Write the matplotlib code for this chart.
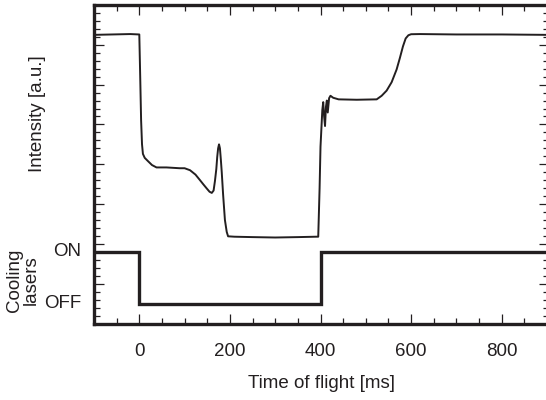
"""Intensity trace vs time of flight with the cooling-laser on/off timing underneath."""
import matplotlib
matplotlib.use('Agg')
import matplotlib.pyplot as plt
from matplotlib.ticker import MultipleLocator, NullFormatter
import matplotlib.transforms as mtransforms

plt.rcParams['font.family'] = ['Liberation Sans', 'DejaVu Sans']

# intensity trace (a.u., same scale as the tick grid)
time_ms = [-100, -60, -20, 0, 2, 4, 6, 8, 12, 19, 28, 38, 60, 89, 100, 112,
           124, 134, 141, 149, 155, 160, 164, 167, 170, 172, 174, 176, 178,
           180, 182, 185, 189, 193, 196, 210, 250, 300, 350, 390, 395, 398,
           400, 402, 404, 406, 408, 410, 412, 414, 416, 419, 422, 428, 440,
           480, 524, 535, 546, 557, 568, 575, 582, 588, 594, 600, 620, 700,
           800, 900]
intensity = [36.25, 36.3, 36.35, 36.3, 31.0, 25.5, 22.5, 21.3, 20.8, 20.4,
             19.9, 19.6, 19.6, 19.5, 19.5, 19.25, 18.7, 18.0, 17.5, 16.95,
             16.55, 16.4, 16.7, 17.9, 19.4, 20.9, 22.0, 22.5, 22.0, 20.6,
             19.0, 16.2, 13.0, 11.5, 10.95, 10.9, 10.85, 10.8, 10.85, 10.9,
             10.9, 17.0, 22.2, 24.5, 26.8, 27.8, 26.0, 24.8, 27.2, 28.0, 26.5,
             28.3, 28.6, 28.35, 28.15, 28.1, 28.15, 28.6, 29.25, 30.3, 31.9,
             33.3, 34.8, 35.8, 36.2, 36.33, 36.35, 36.3, 36.3, 36.25]

# cooling lasers: switching times and state levels
laser_edges = [-100, 0, 400, 900]
laser_level_on = 9.0
laser_level_off = 2.5
laser_states = ['ON', 'OFF', 'ON']
laser_labels = ['ON', 'OFF']

x_major = 200
x_minor = 50

fig = plt.figure(figsize=(5.46, 4.00), dpi=100)
# right edge sits just past the image border, as in the original crop
ax = fig.add_axes([94 / 546, 76.5 / 400, 455 / 546, 318.5 / 400])

ink = '#231f20'
ax.plot(time_ms, intensity, color=ink, lw=1.4, solid_joinstyle='round')

levels = [laser_level_on if s == 'ON' else laser_level_off for s in laser_states]
ax.stairs(levels, laser_edges, baseline=None, color=ink, lw=2.4)

ax.set_xlim(-100, 900 + 2 * 1000 / 453)
ax.set_ylim(0, 40)

ax.xaxis.set_major_locator(MultipleLocator(x_major))
ax.xaxis.set_minor_locator(MultipleLocator(x_minor))
ax.yaxis.set_major_locator(MultipleLocator(5))
ax.yaxis.set_minor_locator(MultipleLocator(1))
ax.yaxis.set_major_formatter(NullFormatter())

ax.tick_params(which='both', direction='in', top=True, right=True,
               color=ink, width=0.9)
ax.tick_params(which='major', length=7.5)
ax.tick_params(which='minor', length=4.5)
ax.tick_params(axis='x', which='major', labelsize=13.5, pad=14, labelcolor=ink)
for sp in ax.spines.values():
    sp.set_linewidth(2.4)
    sp.set_color(ink)

# ON / OFF labels next to the laser trace
trans = mtransforms.blended_transform_factory(fig.transFigure, ax.transData)
for lab in laser_labels:
    yv = laser_level_on if lab == 'ON' else laser_level_off
    ax.text(81 / 546, yv, lab, transform=trans, ha='right', va='center',
            fontsize=13.5, color=ink)

ax.set_xlabel('Time of flight [ms]', fontsize=13.5, color=ink, labelpad=11)
fig.text(38 / 546, 1 - 114 / 400, 'Intensity [a.u.]', rotation=90,
         ha='center', va='center', fontsize=13.5, color=ink)
fig.text(23 / 546, 1 - 280 / 400, 'Cooling\nlasers', rotation=90,
         ha='center', va='center', fontsize=13.5, color=ink, linespacing=0.95)

fig.savefig('out.png', dpi=100)
